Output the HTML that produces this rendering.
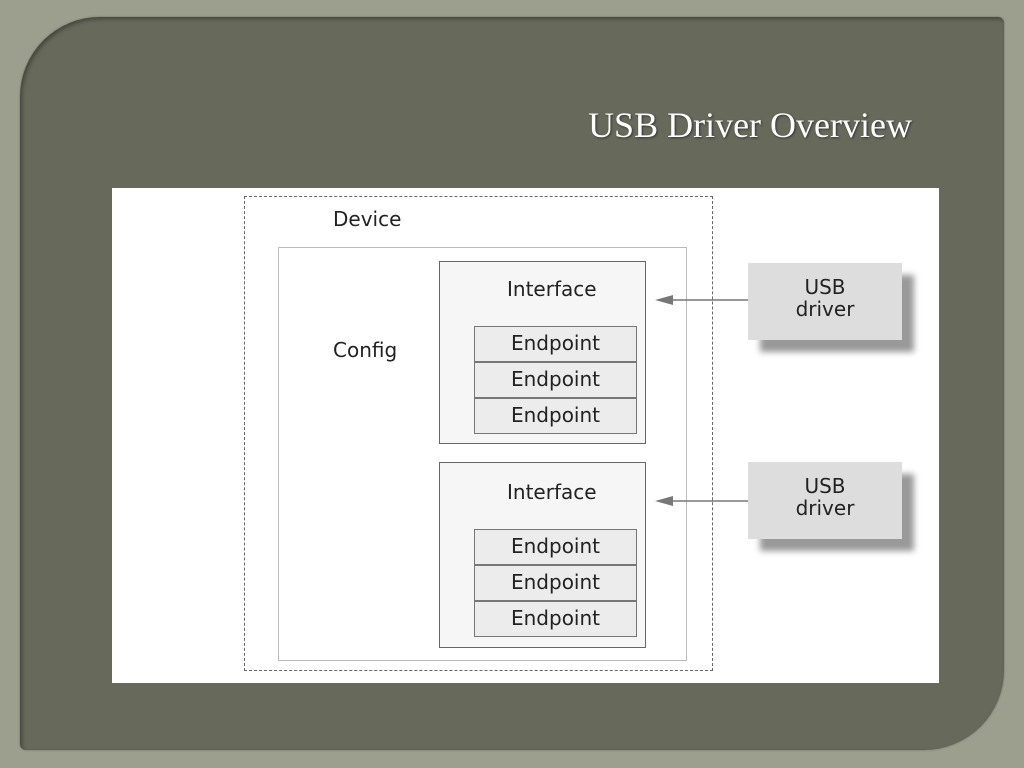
<!DOCTYPE html>
<html><head><style>
body{margin:0;width:1024px;height:768px;background:#9c9f8e;position:relative;overflow:hidden;font-family:"DejaVu Sans","Liberation Sans",sans-serif}
.panel{position:absolute;left:20px;top:17px;width:984px;height:733px;background:#676a5b;border-radius:80px 6px 80px 6px;box-shadow:inset 2px 2px 4px rgba(0,0,0,.35),0 0 2px rgba(0,0,0,.3)}
h1{position:absolute;right:112px;top:104px;margin:0;font:36px "Liberation Serif",serif;color:#fff;text-shadow:1px 1px 2px #333}
.img{position:absolute;left:112px;top:188px;width:827px;height:495px;background:#fff}
.a{position:absolute;box-sizing:border-box}
.t{position:absolute;font-size:20px;color:#222}
.ep{position:absolute;left:474px;width:163px;height:36px;box-sizing:border-box;border:1px solid #777;background:#ececec;text-align:center;font-size:20px;line-height:32px;color:#222}
.drv{position:absolute;left:748px;width:154px;height:77px;background:#ddd;text-align:center;font-size:20px;line-height:22px;color:#222;padding-top:13px;box-sizing:border-box;box-shadow:12px 12px 6px #999}
</style></head><body>
<div class="panel"></div>
<h1>USB Driver Overview</h1>
<div class="img"></div>
<div class="a" style="left:244px;top:196px;width:469px;height:475px;border:1.5px dashed #666"></div>
<div class="t" style="left:333px;top:207px">Device</div>
<div class="a" style="left:278px;top:247px;width:409px;height:414px;border:1px solid #bbb;background:#fff"></div>
<div class="t" style="left:333px;top:338px">Config</div>
<div class="a" style="left:439px;top:261px;width:207px;height:183px;border:1px solid #666;background:#f6f6f6"></div>
<div class="t" style="left:507px;top:277px">Interface</div>
<div class="ep" style="top:326px">Endpoint</div>
<div class="ep" style="top:362px">Endpoint</div>
<div class="ep" style="top:398px">Endpoint</div>
<div class="a" style="left:439px;top:462px;width:207px;height:186px;border:1px solid #666;background:#f6f6f6"></div>
<div class="t" style="left:507px;top:480px">Interface</div>
<div class="ep" style="top:529px">Endpoint</div>
<div class="ep" style="top:565px">Endpoint</div>
<div class="ep" style="top:601px">Endpoint</div>
<svg class="a" style="left:0;top:0" width="1024" height="768">
<line x1="748" y1="300" x2="670" y2="300" stroke="#777" stroke-width="1.5"/>
<polygon points="655,300 673,295 673,305" fill="#777"/>
<line x1="748" y1="501" x2="670" y2="501" stroke="#777" stroke-width="1.5"/>
<polygon points="655,501 673,496 673,506" fill="#777"/>
</svg>
<div class="drv" style="top:263px">USB<br>driver</div>
<div class="drv" style="top:462px">USB<br>driver</div>
</body></html>
